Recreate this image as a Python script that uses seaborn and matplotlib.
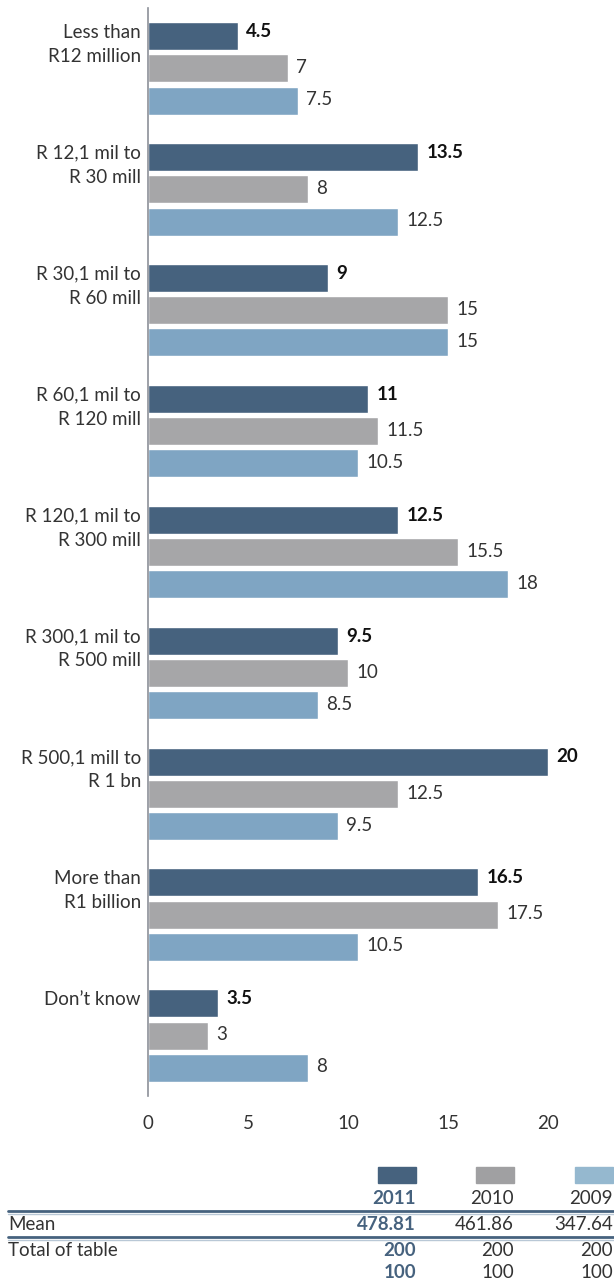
import pandas as pd
import numpy as np
import matplotlib.pyplot as plt
from matplotlib.lines import Line2D
from matplotlib.patches import Rectangle
import seaborn as sns

categories = [
    "Less than\nR12 million",
    "R 12,1 mil to\nR 30 mill",
    "R 30,1 mil to\nR 60 mill",
    "R 60,1 mil to\nR 120 mill",
    "R 120,1 mil to\nR 300 mill",
    "R 300,1 mil to\nR 500 mill",
    "R 500,1 mill to\nR 1 bn",
    "More than\nR1 billion",
    "Don\u2019t know",
]
years = ["2011", "2010", "2009"]
v2011 = [4.5, 13.5, 9, 11, 12.5, 9.5, 20, 16.5, 3.5]
v2010 = [7, 8, 15, 11.5, 15.5, 10, 12.5, 17.5, 3]
v2009 = [7.5, 12.5, 15, 10.5, 18, 8.5, 9.5, 10.5, 8]
mean_vals = ["478.81", "461.86", "347.64"]
total_vals = ["200", "200", "200"]
pct_vals = ["100", "100", "100"]

colors = ["#46627e", "#a6a6a8", "#7fa5c3"]
legend_colors = ["#46627e", "#a0a0a2", "#95b8cf"]
dark = "#46627e"
fs = 13.5

sns.set_style("white")
plt.rcParams["font.family"] = ["Lato", "DejaVu Sans"]
plt.rcParams["text.color"] = "#222222"

df = pd.DataFrame({
    "category": categories * 3,
    "year": [y for y in years for _ in categories],
    "value": v2011 + v2010 + v2009,
})

W, H = 614, 1284
fig = plt.figure(figsize=(W / 100, H / 100), dpi=100)
ax = fig.add_axes([148 / W, 1 - 1096 / H, (W - 148) / W, (1096 - 8) / H])

sns.barplot(data=df, y="category", x="value", hue="year", hue_order=years,
            order=categories, palette=colors, orient="h", width=0.8, gap=0.13,
            saturation=1, legend=False, ax=ax)

ax.set_xlim(0, (W - 148) / 20)
ax.set_ylim(8.5, -0.5)
ax.set_xticks([0, 5, 10, 15, 20])
ax.set_xticklabels(["0", "5", "10", "15", "20"], fontsize=fs, color="#333333")
ax.tick_params(axis="x", length=0, pad=14)
ax.set_yticks([])
ax.set_xlabel("")
ax.set_ylabel("")
for s in ["top", "right", "bottom"]:
    ax.spines[s].set_visible(False)
ax.spines["left"].set_color("#8c9098")
ax.spines["left"].set_linewidth(1.2)

# category labels, top-aligned with the first bar in each group
for i, cat in enumerate(categories):
    ax.text(-0.35, i - 0.37, cat, ha="right", va="top", fontsize=fs,
            linespacing=1.52, color="#333333")

# value labels
series = [v2011, v2010, v2009]
for k, vals in enumerate(series):
    for i, v in enumerate(vals):
        yy = i + (k - 1) * 0.2645
        lab = ("%g" % v)
        if k == 0:
            ax.annotate(lab, (v, yy), xytext=(6, 3.5), textcoords="offset points",
                        ha="left", va="center", fontsize=fs, fontweight="bold",
                        color="#111111")
        else:
            ax.annotate(lab, (v, yy), xytext=(6, 0.5), textcoords="offset points",
                        ha="left", va="center", fontsize=fs, color="#333333")

# table below the chart
def fy(y):
    return 1 - y / H

col_right = [416, 514, 613]
for j in range(3):
    fig.patches.append(Rectangle(((col_right[j] - 38) / W, fy(1183)), 38 / W, 16 / H,
                                 transform=fig.transFigure, color=legend_colors[j]))
    bold = j == 0
    c = dark if bold else "#333333"
    w = "bold" if bold else "normal"
    fig.text(col_right[j] / W, fy(1198), years[j], ha="right", va="center",
             fontsize=fs, fontweight=w, color=c)
    fig.text(col_right[j] / W, fy(1224), mean_vals[j], ha="right", va="center",
             fontsize=fs, fontweight=w, color=c)
    fig.text(col_right[j] / W, fy(1250), total_vals[j], ha="right", va="center",
             fontsize=fs, fontweight=w, color=c)
    fig.text(col_right[j] / W, fy(1273), pct_vals[j], ha="right", va="center",
             fontsize=fs, fontweight=w, color=c)

fig.text(8 / W, fy(1224), "Mean", ha="left", va="center", fontsize=fs, color="#333333")
fig.text(8 / W, fy(1250), "Total of table", ha="left", va="center", fontsize=fs,
         color="#333333")

for y0 in [1211, 1237]:
    fig.lines.append(Line2D([8 / W, 1], [fy(y0), fy(y0)], transform=fig.transFigure,
                            color=dark, lw=2))
    fig.lines.append(Line2D([8 / W, 1], [fy(y0 + 2.5), fy(y0 + 2.5)],
                            transform=fig.transFigure, color="#b9c8d6", lw=1))

fig.savefig("out.png", dpi=100)
